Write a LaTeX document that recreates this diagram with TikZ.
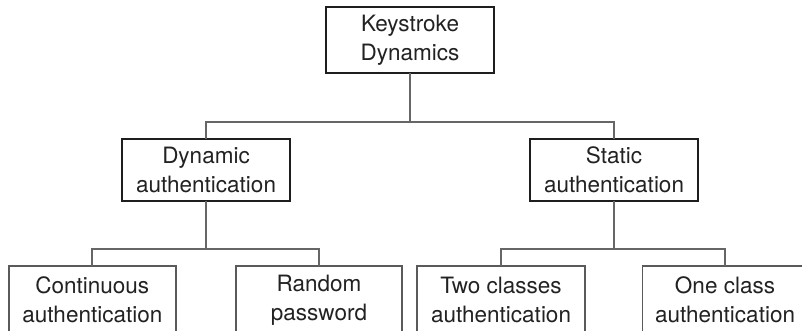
\documentclass[tikz,border=0pt]{standalone}
\usepackage{fontspec}
\setmainfont{TeX Gyre Heros}
\definecolor{txt}{HTML}{222222}
\definecolor{boxdark}{HTML}{1E1E1E}
\definecolor{boxgray}{HTML}{5A5A5A}
\definecolor{conn}{HTML}{666666}
\begin{document}
\begin{tikzpicture}[x=1pt,y=1pt,
  basebox/.style={rectangle, align=center, inner sep=0pt, outer sep=0pt,
    text=txt, font=\fontsize{22.5}{29}\selectfont},
  topbox/.style={basebox, draw=boxdark, line width=1.6pt, minimum height=64pt},
  leafbox/.style={basebox, draw=boxgray, line width=1.4pt, minimum height=68pt},
  link/.style={draw=conn, line width=2.2pt}]
\useasboundingbox (0,0) rectangle (802,330);
\clip (0,0) rectangle (802,330);
\fill[white] (0,0) rectangle (802,330);
\coordinate (bus1) at (0,208);
\coordinate (bus2) at (0,81);
\node[topbox, minimum width=168pt, minimum height=66pt] (key) at (410,290) {Keystroke\\Dynamics};
\node[topbox, minimum width=168pt, minimum height=62pt] (dyn) at (206,160) {Dynamic\\authentication};
\node[topbox, minimum width=168pt, minimum height=62pt] (stat) at (614,160) {Static\\authentication};
\node[leafbox, minimum width=167pt] (cont) at (92.3,30) {Continuous\\authentication};
\node[leafbox, minimum width=166pt] (rand) at (319,30) {Random\\password};
\node[leafbox, minimum width=168pt] (two) at (501,30) {Two classes\\authentication};
\node[leafbox, minimum width=165pt] (one) at (725,30) {One class\\authentication};
\draw[link] (key.south) -- (key.south |- bus1);
\draw[link] (dyn.north) -- (dyn.north |- bus1) -- (stat.north |- bus1) -- (stat.north);
\draw[link] (dyn.south) -- (dyn.south |- bus2);
\draw[link] (cont.north) -- (cont.north |- bus2) -- (rand.north |- bus2) -- (rand.north);
\draw[link] (stat.south) -- (stat.south |- bus2);
\draw[link] (two.north) -- (two.north |- bus2) -- (one.north |- bus2) -- (one.north);
\end{tikzpicture}
\end{document}
